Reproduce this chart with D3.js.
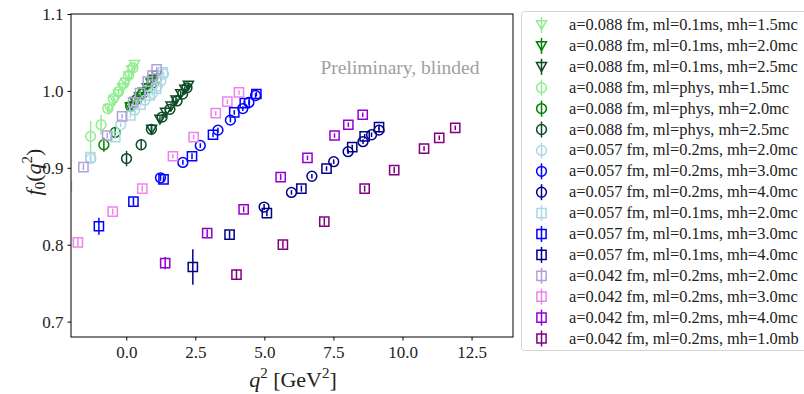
<!DOCTYPE html>
<html><head><meta charset="utf-8">
<script src="https://cdn.jsdelivr.net/npm/d3@7"></script>
<style>body{margin:0;background:#fff}svg{display:block}text{font-family:"Liberation Serif","DejaVu Serif",serif;}</style>
</head><body><div id="c"></div>
<script>
const seriesLabels = [
 "a=0.088 fm, ml=0.1ms, mh=1.5mc","a=0.088 fm, ml=0.1ms, mh=2.0mc","a=0.088 fm, ml=0.1ms, mh=2.5mc",
 "a=0.088 fm, ml=phys, mh=1.5mc","a=0.088 fm, ml=phys, mh=2.0mc","a=0.088 fm, ml=phys, mh=2.5mc",
 "a=0.057 fm, ml=0.2ms, mh=2.0mc","a=0.057 fm, ml=0.2ms, mh=3.0mc","a=0.057 fm, ml=0.2ms, mh=4.0mc",
 "a=0.057 fm, ml=0.1ms, mh=2.0mc","a=0.057 fm, ml=0.1ms, mh=3.0mc","a=0.057 fm, ml=0.1ms, mh=4.0mc",
 "a=0.042 fm, ml=0.2ms, mh=2.0mc","a=0.042 fm, ml=0.2ms, mh=3.0mc","a=0.042 fm, ml=0.2ms, mh=4.0mc",
 "a=0.042 fm, ml=0.2ms, mh=1.0mb"];
const seriesColors = ["#90ee90","#008000","#0b4a26","#90ee90","#008000","#0b4a26",
 "#add8e6","#0000ff","#00008b","#add8e6","#0000ff","#00008b","#b39ddb","#ee82ee","#9400d3","#800080"];
const seriesMarkers = ["v","v","v","o","o","o","o","o","o","s","s","s","s","s","s","s"];
const q2Values = [
 [-0.62,-0.42,-0.28,-0.14,-0.02,0.10,0.20,0.30],
 [0.15,0.32,0.48,0.62,0.76,0.90,1.00,1.10],
 [0.92,1.22,1.42,1.62,1.80,1.97,2.12,2.25],
 [-1.29,-0.91,-0.67,-0.47,-0.28,-0.08,0.08,0.24],
 [-0.81,-0.40,0.16,0.38,0.58,0.78,0.94,1.08],
 [0.01,0.54,0.91,1.30,1.58,1.84,2.04,2.20],
 [-1.28,-0.20,0.30,0.68,0.95,1.12,1.25,1.35],
 [1.24,2.05,2.68,3.32,3.77,4.22,4.44,4.68],
 [4.99,5.98,6.72,7.51,8.03,8.57,8.88,9.15],
 [-2.15,-1.30,-0.40,0.15,0.52,0.85,1.08,1.32],
 [-0.99,0.26,1.35,2.38,3.14,3.91,4.29,4.71],
 [2.41,3.74,5.09,6.34,7.25,8.18,8.63,9.15],
 [-1.55,-0.69,-0.15,0.25,0.50,0.78,0.95,1.10],
 [-1.75,-0.49,0.58,1.69,2.44,3.24,3.66,4.08],
 [1.41,2.93,4.25,5.59,6.56,7.54,8.04,8.56],
 [3.99,5.67,7.17,8.63,9.70,10.78,11.33,11.91]];
const f0Values = [
 [0.977,0.988,0.996,1.004,1.011,1.019,1.027,1.034],
 [0.979,0.986,0.992,0.998,1.004,1.010,1.015,1.020],
 [0.950,0.963,0.972,0.980,0.988,0.996,1.002,1.007],
 [0.941,0.956,0.977,0.990,0.999,1.010,1.020,1.030],
 [0.930,0.946,0.980,0.989,0.996,1.004,1.010,1.015],
 [0.912,0.930,0.950,0.966,0.976,0.987,0.996,1.004],
 [0.912,0.956,0.975,0.988,0.997,1.006,1.013,1.022],
 [0.887,0.907,0.929,0.949,0.962,0.977,0.985,0.994],
 [0.849,0.868,0.889,0.908,0.921,0.934,0.943,0.949],
 [0.876,0.914,0.940,0.968,0.982,0.994,1.003,1.024],
 [0.824,0.856,0.885,0.915,0.943,0.972,0.984,0.996],
 [0.771,0.813,0.841,0.873,0.899,0.927,0.941,0.953],
 [0.901,0.942,0.967,0.985,0.997,1.012,1.020,1.028],
 [0.803,0.843,0.873,0.915,0.940,0.971,0.986,0.998],
 [0.776,0.815,0.846,0.888,0.913,0.942,0.956,0.969],
 [0.761,0.800,0.830,0.873,0.897,0.925,0.939,0.952]];
const f0Errors = [
 [0.004,0.003,0.003,0.003,0.003,0.003,0.003,0.003],
 [0.005,0.004,0.004,0.004,0.004,0.004,0.004,0.004],
 [0.005,0.004,0.004,0.004,0.004,0.004,0.004,0.004],
 [0.020,0.013,0.004,0.003,0.003,0.003,0.003,0.003],
 [0.009,0.006,0.004,0.003,0.003,0.003,0.003,0.003],
 [0.010,0.007,0.005,0.004,0.003,0.003,0.003,0.003],
 [0.004,0.003,0.003,0.003,0.003,0.003,0.003,0.003],
 [0.004,0.003,0.003,0.003,0.003,0.003,0.003,0.003],
 [0.004,0.003,0.003,0.003,0.003,0.003,0.003,0.003],
 [0.004,0.004,0.003,0.003,0.003,0.003,0.003,0.003],
 [0.011,0.005,0.004,0.004,0.003,0.003,0.003,0.003],
 [0.023,0.005,0.004,0.004,0.003,0.003,0.003,0.003],
 [0.004,0.004,0.003,0.003,0.003,0.003,0.003,0.003],
 [0.005,0.004,0.004,0.003,0.003,0.003,0.003,0.003],
 [0.008,0.005,0.004,0.004,0.003,0.003,0.003,0.003],
 [0.007,0.005,0.005,0.004,0.004,0.003,0.003,0.003]];
const xTicks = [0, 2.5, 5, 7.5, 10, 12.5];
const yTicks = [0.7, 0.8, 0.9, 1.0, 1.1];

const W = 804, H = 394;
const L = 71, R = 513, T = 14, B = 337;
const svg = d3.select("#c").append("svg").attr("width", W).attr("height", H);
const x = d3.scaleLinear().domain([-2, 14]).range([L, R]);
const y = d3.scaleLinear().domain([0.68, 1.1]).range([B, T]);

svg.append("defs").append("clipPath").attr("id","clip").append("rect")
  .attr("x", L).attr("y", T).attr("width", R-L).attr("height", B-T);

function markerPath(m, s) {
  if (m === "s") { const h = 4.6; return `M${-h},${-h}H${h}V${h}H${-h}Z`; }
  if (m === "v") { return `M-5,-4.2L5,-4.2L0,4.6Z`; }
  return d3.symbol().type(d3.symbolCircle).size(Math.PI*4.9*4.9)();
}

const plot = svg.append("g").attr("clip-path","url(#clip)");
seriesLabels.forEach((lab, i) => {
  const g = plot.append("g");
  const pts = q2Values[i].map((q, j) => ({q, f: f0Values[i][j], e: f0Errors[i][j]}));
  g.selectAll("line.err").data(pts).enter().append("line")
    .attr("x1", d => x(d.q)).attr("x2", d => x(d.q))
    .attr("y1", d => y(d.f - d.e)).attr("y2", d => y(d.f + d.e))
    .attr("stroke", seriesColors[i]).attr("stroke-width", 1.5);
  g.selectAll("path.m").data(pts).enter().append("path")
    .attr("d", markerPath(seriesMarkers[i]))
    .attr("transform", d => `translate(${x(d.q)},${y(d.f)})`)
    .attr("fill", "none").attr("stroke", seriesColors[i]).attr("stroke-width", 1.5);
});

// frame
svg.append("rect").attr("x", L).attr("y", T).attr("width", R-L).attr("height", B-T)
  .attr("fill","none").attr("stroke","#000").attr("stroke-width",1);

const fs = 17;
const xAxis = d3.axisBottom(x).tickValues(xTicks).tickFormat(d3.format(".1f")).tickSize(3.5).tickPadding(5);
const gx = svg.append("g").attr("transform", `translate(0,${B})`).call(xAxis);
const yAxis = d3.axisLeft(y).tickValues(yTicks).tickFormat(d3.format(".1f")).tickSize(3.5).tickPadding(4);
const gy = svg.append("g").attr("transform", `translate(${L},0)`).call(yAxis);
[gx, gy].forEach(g => {
  g.select(".domain").remove();
  g.selectAll(".tick line").attr("stroke","#000");
  g.selectAll(".tick text").attr("font-size", fs).attr("fill","#222").attr("font-family",'"Liberation Serif",serif');
});

// axis labels
const xl = svg.append("text").attr("x", 293).attr("y", 387).attr("text-anchor","middle").attr("font-size", 22).attr("fill","#222");
xl.append("tspan").attr("font-style","italic").text("q");
xl.append("tspan").attr("font-size", 15).attr("dy", -9).text("2");
xl.append("tspan").attr("dy", 9).text(" [GeV");
xl.append("tspan").attr("font-size", 15).attr("dy", -9).text("2");
xl.append("tspan").attr("dy", 9).text("]");

const yl = svg.append("text").attr("transform","translate(41,172) rotate(-90)").attr("text-anchor","middle").attr("font-size", 22).attr("fill","#222");
yl.append("tspan").attr("font-style","italic").text("f");
yl.append("tspan").attr("font-size", 15).attr("dy", 4).text("0");
yl.append("tspan").attr("dy", -4).text("(");
yl.append("tspan").attr("font-style","italic").text("q");
yl.append("tspan").attr("font-size", 15).attr("dy", -9).text("2");
yl.append("tspan").attr("dy", 9).text(")");

// watermark
const wm = svg.append("text").attr("x", 400).attr("y", 74).attr("text-anchor","middle")
  .attr("font-size", 17).attr("fill","#a0a0a0").text("Preliminary, blinded");
{ const w = wm.node().getComputedTextLength(); wm.attr("font-size", 17*159/w); }

// legend
const lg = svg.append("g");
lg.append("rect").attr("x", 521.5).attr("y", 11.5).attr("width", 290).attr("height", 339).attr("rx", 3)
  .attr("fill","#fff").attr("fill-opacity",0.8).attr("stroke","#d4d4d4").attr("stroke-width",1);
const probe = svg.append("text").attr("font-size", 15).text(seriesLabels[0]);
const legFs = 15*229/probe.node().getComputedTextLength();
probe.remove();
seriesLabels.forEach((lab, i) => {
  const cy = 25 + i*20.9;
  lg.append("line").attr("x1",541.5).attr("x2",541.5).attr("y1",cy-8).attr("y2",cy+8)
    .attr("stroke", seriesColors[i]).attr("stroke-width",1.5);
  lg.append("path").attr("d", markerPath(seriesMarkers[i])).attr("transform",`translate(541.5,${cy})`)
    .attr("fill","none").attr("stroke", seriesColors[i]).attr("stroke-width",1.5);
  lg.append("text").attr("x", 569).attr("y", cy + 5).attr("font-size", legFs).attr("fill","#222").text(lab);
});
</script></body></html>
